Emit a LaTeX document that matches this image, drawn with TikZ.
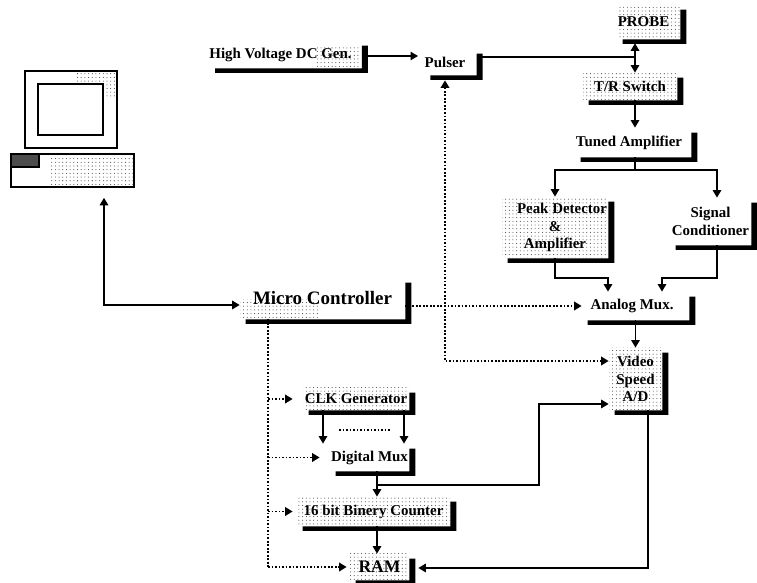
\documentclass[tikz,border=0pt]{standalone}
\usepackage{fontspec}
\setmainfont{Liberation Serif}
\usetikzlibrary{arrows.meta,patterns.meta}
\begin{document}
\begin{tikzpicture}[
  blk/.style={inner sep=0pt,align=center,font=\fontsize{8.5}{10}\selectfont\bfseries},
  dblk/.style={blk,pattern={Dots[distance=2.1pt,radius=.3pt]},pattern color=black!75},
  dotpatch/.style={pattern={Dots[distance=2.1pt,radius=.3pt]},pattern color=black!75},
  pcblk/.style={draw,line width=.9pt,inner sep=0pt},
  wire/.style={line width=.85pt},
  arr/.style={wire,-{Triangle[length=.15cm,width=.17cm]}},
  biarr/.style={wire,{Triangle[length=.15cm,width=.17cm]}-{Triangle[length=.15cm,width=.17cm]}},
  dotwire/.style={line width=1pt,densely dotted},
  dotarr/.style={dotwire,-{Triangle[length=.15cm,width=.17cm]}},
  bidotarr/.style={dotwire,{Triangle[length=.15cm,width=.17cm]}-{Triangle[length=.15cm,width=.17cm]}},
]
\useasboundingbox (0,0) rectangle (15.14,11.66);
% computer
\fill[dotpatch] (1.5,9.98) rectangle (2.3,10.24);
\fill[dotpatch] (2.06,9.72) rectangle (2.3,9.98);
\fill[dotpatch] (1.0,7.96) rectangle (2.68,8.52);
\node[pcblk,minimum width=1.84cm,minimum height=1.54cm] (monitor) at (1.42,9.47) {};
\node[pcblk,minimum width=1.30cm,minimum height=1.02cm] (screen) at (1.41,9.47) {};
\node[pcblk,minimum width=2.46cm,minimum height=0.66cm] (pcbase) at (1.45,8.25) {};
\node[pcblk,fill=black!70,minimum width=0.56cm,minimum height=0.26cm] (keypad) at (0.50,8.45) {};
% blocks
\fill[dotpatch] (6.30,10.30) rectangle (7.22,10.74);
\fill[dotpatch] (4.80,5.28) rectangle (6.40,5.66);
\node[blk,minimum width=3.02cm,minimum height=0.54cm] (hv) at (5.71,10.57) {High Voltage DC Gen.\hspace*{.2cm}};
\node[blk,minimum width=0.94cm,minimum height=0.52cm] (pulser) at (9.01,10.42) {Pulser\hspace*{.22cm}};
\node[dblk,minimum width=1.26cm,minimum height=0.68cm] (probe) at (12.97,11.22) {PROBE\hspace*{.2cm}};
\node[dblk,minimum width=1.88cm,minimum height=0.54cm] (tr) at (12.60,9.93) {T/R Switch};
\node[blk,minimum width=2.32cm,minimum height=0.58cm] (tuned) at (12.66,8.81) {Tuned Amplifier\hspace*{.16cm}};
\node[dblk,minimum width=2.12cm,minimum height=1.22cm] (peak) at (11.10,7.11) {\hspace*{.28cm}Peak Detector\\\&\\Amplifier};
\node[blk,minimum width=1.62cm,minimum height=0.94cm] (signal) at (14.21,7.23) {Signal\\Conditioner};
\node[blk,minimum width=2.14cm,minimum height=0.56cm] (analog) at (12.71,5.54) {Analog Mux.\hspace*{.14cm}};
\node[dblk,minimum width=1.06cm,minimum height=1.24cm] (video) at (12.71,4.08) {Video\\Speed\\A/D};
\node[blk,font=\fontsize{10.8}{12}\selectfont\bfseries,minimum width=3.30cm,minimum height=0.82cm] (micro) at (6.45,5.69) {Micro Controller};
\node[dblk,minimum width=2.12cm,minimum height=0.44cm] (clk) at (7.12,3.68) {CLK Generator};
\node[blk,minimum width=1.58cm,minimum height=0.54cm] (digmux) at (7.39,2.51) {Digital Mux};
\node[dblk,minimum width=3.06cm,minimum height=0.58cm] (counter) at (7.47,1.43) {16 bit Binery Counter};
\node[dblk,font=\fontsize{10}{12}\selectfont\bfseries,minimum width=1.18cm,minimum height=0.52cm] (ram) at (7.59,0.32) {RAM};
% bends
\coordinate (rfx) at (12.70,10.52);
\coordinate (ampsplit) at (12.70,8.26);
\coordinate (sigx) at (14.34,8.26);
\coordinate (muxA) at (12.16,6.10);
\coordinate (muxB) at (13.24,6.10);
\coordinate (hvy) at (8.36,10.54);
\coordinate (trig) at (8.90,4.44);
\coordinate (busx) at (5.36,0.32);
\coordinate (pclink) at (2.08,5.56);
\coordinate (clkL) at (6.46,3.00);
\coordinate (clkR) at (8.08,3.00);
\coordinate (dotsL) at (6.78,3.06);
\coordinate (dotsR) at (7.80,3.06);
\coordinate (muxx) at (7.54,1.96);
\coordinate (adcup) at (10.78,3.58);
\coordinate (adcx) at (12.96,0.30);
% signal path
\draw[line width=.6pt,-{Triangle[length=.15cm,width=.17cm]}] (hv.east |- hvy) -- (hvy);
\draw[line width=.6pt] (pulser.east |- rfx) -- (rfx);
\draw[biarr,shorten <=.08cm] (rfx |- probe.south) -- (rfx |- tr.north);
\draw[arr] (rfx |- tr.south) -- (rfx |- tuned.north);
\draw[wire] (rfx |- tuned.south) -- (ampsplit);
\draw[arr] (ampsplit) -| (peak.north);
\draw[arr] (ampsplit) -| (sigx |- signal.north);
\draw[arr] (peak.south) |- (muxA) -- (muxA |- analog.north);
\draw[arr] (sigx |- signal.south) |- (muxB) -- (muxB |- analog.north);
\draw[arr] (analog) -- (video);
% control lines
\draw[dotarr] (micro.east |- analog.west) -- (analog.west);
\draw[bidotarr,shorten <=.1cm] (trig |- pulser.south) -- (trig) -- (video.west |- trig);
\draw[dotwire] (busx |- micro.south) -- (busx);
\foreach \n/\gap in {clk/.2,digmux/.2,counter/.08,ram/.06}
  \draw[dotarr,shorten >=\gap cm] (busx |- \n.west) -- (\n.west);
\draw[biarr,shorten <=.2cm] (pclink |- pcbase.south) -- (pclink) -- (micro.west |- pclink);
% digital part
\draw[arr] (clkL |- clk.south) -- (clkL |- digmux.north);
\draw[arr] (clkR |- clk.south) -- (clkR |- digmux.north);
\draw[dotwire] (dotsL) -- (dotsR);
\draw[arr] (muxx |- digmux.south) -- (muxx |- counter.north);
\draw[arr] (muxx) -| (adcup) -- (video.west |- adcup);
\draw[arr] (muxx |- counter.south) -- (muxx |- ram.north);
\draw[arr,shorten >=.18cm] (adcx |- video.south) -- (adcx) -- (ram.east |- adcx);
% block shadows
\foreach \n in {hv,pulser,probe,tr,tuned,peak,signal,analog,video,micro,clk,digmux,counter,ram}
  \fill ([yshift=-.1cm]\n.north east) -- ++(.12,0) -- ([shift={(.12,-.09)}]\n.south east)
    -- ([shift={(.12,-.09)}]\n.south west) -- ([xshift=.12cm]\n.south west) -- (\n.south east) -- cycle;
\end{tikzpicture}
\end{document}
